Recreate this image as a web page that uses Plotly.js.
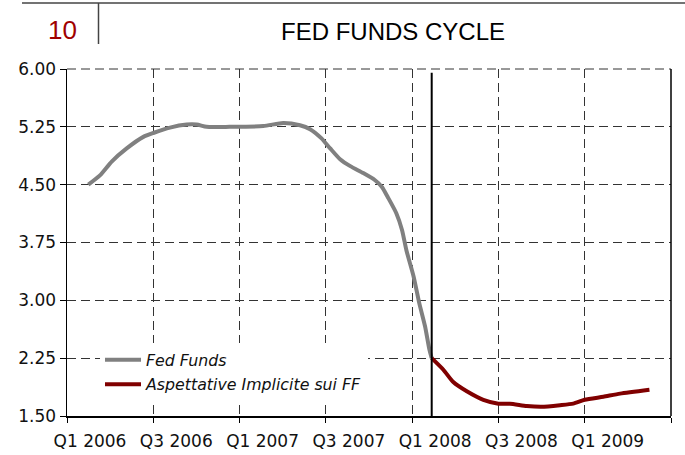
<!DOCTYPE html>
<html><head><meta charset="utf-8">
<script src="https://cdn.plot.ly/plotly-3.0.1.min.js"></script>
<style>html,body{margin:0;padding:0;background:#fff}#chart{width:685px;height:455px}</style>
</head><body><div id="chart"></div>
<script>
// x values are months since the start of Q1 2006
const periodLabels = ['Q1 2006','Q3 2006','Q1 2007','Q3 2007','Q1 2008','Q3 2008','Q1 2009'];
const fedMonths = [1.48, 2.29, 3.11, 4.15, 5.31, 6.0, 7.16, 8.32, 9.02, 9.71, 11.3, 13.65, 15.04, 16.2, 16.9, 17.7, 18.3, 18.99, 19.7, 20.6, 21.4, 21.9, 22.3, 22.9, 23.3, 23.6, 24.1, 24.5, 24.9, 25.2, 25.36];
const fedValues = [4.50, 4.62, 4.80, 4.97, 5.12, 5.17, 5.24, 5.28, 5.28, 5.25, 5.25, 5.26, 5.30, 5.27, 5.22, 5.10, 4.97, 4.83, 4.74, 4.65, 4.56, 4.47, 4.34, 4.13, 3.91, 3.65, 3.31, 2.96, 2.66, 2.36, 2.25];
const expMonths = [25.36, 26.17, 26.86, 27.8, 28.95, 30.0, 30.8, 31.97, 33.0, 34.28, 35.2, 36.0, 37.3, 38.46, 40.5];
const expValues = [2.25, 2.10, 1.94, 1.82, 1.71, 1.66, 1.66, 1.63, 1.62, 1.64, 1.66, 1.71, 1.75, 1.79, 1.84];
const splitMonth = 25.36;
const seriesNames = ['Fed Funds', 'Aspettative Implicite sui FF'];
const chartNumber = '10';
const chartTitle = 'FED FUNDS CYCLE';

const L = 67, R = 671, T = 69, B = 416;
const px2x = p => (p - L) / (R - L);
const py2y = p => (B - p) / (B - T);
const tickFont = {family: 'DejaVu Sans', size: 17, color: '#111'};
const gridDash = '9px,5px';

const traces = [
  {x: fedMonths, y: fedValues, mode: 'lines', name: seriesNames[0], legendgroup: 'a',
   line: {color: '#808080', width: 4, shape: 'spline', smoothing: 0.6}},
  {x: expMonths, y: expValues, mode: 'lines', name: seriesNames[1], legendgroup: 'b',
   line: {color: '#800000', width: 4, shape: 'spline', smoothing: 0.6}}
];

const layout = {
  width: 685, height: 455,
  margin: {l: L, r: 685 - R, t: T, b: 455 - B},
  paper_bgcolor: '#fff', plot_bgcolor: '#fff',
  showlegend: true,
  legend: {x: px2x(100), y: py2y(343), xanchor: 'left', yanchor: 'top', bgcolor: '#fff',
           font: {family: 'DejaVu Sans', size: 15.8, color: '#111', style: 'italic'},
           tracegroupgap: 1, itemwidth: 36},
  xaxis: {range: [0, 42], tickmode: 'array',
          tickvals: periodLabels.map((_, i) => i * 6 + 1.6), ticktext: periodLabels,
          ticks: '', showgrid: false, zeroline: false, ticklabelstandoff: 9,
          showline: true, linecolor: '#000', linewidth: 1.5, tickfont: tickFont,
          minor: {tickmode: 'linear', tick0: 0, dtick: 6, ticks: 'outside', ticklen: 5, tickcolor: '#000',
                  showgrid: true, gridcolor: '#333', gridwidth: 1, griddash: gridDash}},
  yaxis: {range: [1.5, 6], tickmode: 'linear', tick0: 1.5, dtick: 0.75, tickformat: '.2f',
          ticks: 'outside', ticklen: 6, tickcolor: '#000', showgrid: true, gridcolor: '#333',
          griddash: gridDash, gridwidth: 1, zeroline: false,
          showline: true, linecolor: '#000', linewidth: 1.5, tickfont: tickFont},
  shapes: [
    {type: 'line', xref: 'paper', yref: 'paper', x0: px2x(22), x1: px2x(685), y0: py2y(3), y1: py2y(3),
     line: {color: '#444', width: 1.5}},
    {type: 'line', xref: 'paper', yref: 'paper', x0: px2x(98.5), x1: px2x(98.5), y0: py2y(3), y1: py2y(44),
     line: {color: '#444', width: 1.5}},
    {type: 'line', xref: 'paper', yref: 'paper', x0: 0, x1: 1, y0: 1, y1: 1,
     line: {color: '#333', width: 1, dash: gridDash}},
    {type: 'line', xref: 'paper', yref: 'paper', x0: 1, x1: 1, y0: 0, y1: 1,
     line: {color: '#000', width: 1.5}},
    {type: 'line', xref: 'x', yref: 'y', x0: splitMonth, x1: splitMonth, y0: 1.5, y1: 5.95,
     line: {color: '#000', width: 2}}
  ],
  annotations: [
    {text: chartNumber, xref: 'paper', yref: 'paper', x: px2x(62), y: py2y(30), xanchor: 'center', yanchor: 'middle',
     showarrow: false, font: {family: 'Liberation Sans', size: 26, color: '#A00000'}},
    {text: chartTitle, xref: 'paper', yref: 'paper', x: px2x(392.5), y: py2y(31), xanchor: 'center', yanchor: 'middle',
     showarrow: false, font: {family: 'Liberation Sans', size: 24, color: '#000'}}
  ]
};

Plotly.newPlot('chart', traces, layout, {staticPlot: true, displayModeBar: false});
</script></body></html>
